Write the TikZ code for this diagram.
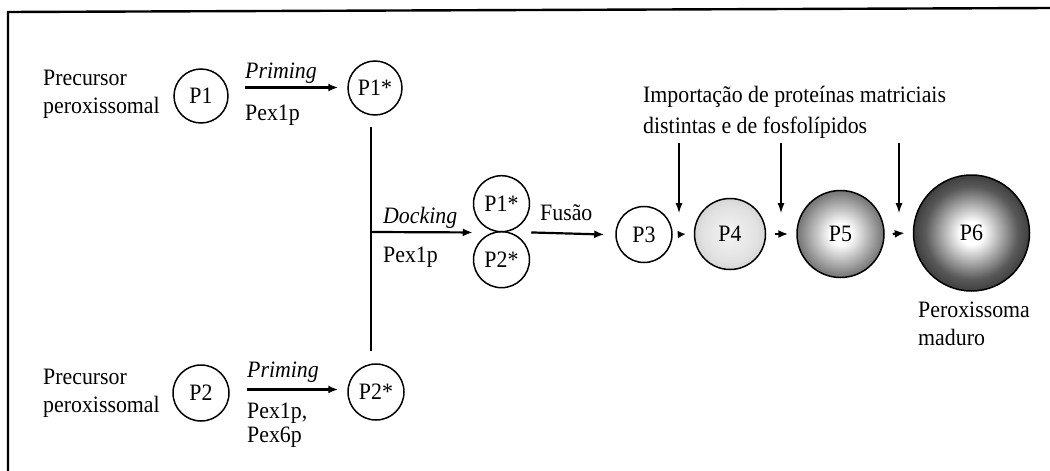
\documentclass[tikz,border=0pt]{standalone}
\usepackage{fontspec}
\setmainfont{Liberation Serif}[FakeStretch=0.93]
\usetikzlibrary{arrows.meta,calc}
\pgfdeclareradialshading{shfour}{\pgfpoint{0bp}{0bp}}{color(0bp)=(black!4); color(20bp)=(black!12); color(50bp)=(black!38)}
\pgfdeclareradialshading{shfive}{\pgfpoint{0bp}{0bp}}{color(0bp)=(white); color(6bp)=(white); color(24bp)=(black!52); color(40bp)=(black!77); color(50bp)=(black!87)}
\pgfdeclareradialshading{shsix}{\pgfpoint{0bp}{0bp}}{color(0bp)=(white); color(5bp)=(white); color(20bp)=(black!65); color(34bp)=(black!94); color(50bp)=(black)}
\begin{document}
\begin{tikzpicture}[x=1pt,y=-1pt,
  txt/.style={font=\fontsize{23.5}{28}\selectfont, inner sep=0pt},
  ptxt/.style={font=\fontsize{23.5}{28}\selectfont},
  cell/.style={circle, draw, line width=1.5pt, inner sep=0pt, ptxt},
  arr/.style={line width=2.2pt, -{Latex[length=10pt,width=8pt]}},
  thin/.style={line width=1.1pt, -{Latex[length=10pt,width=7pt]}},
  plain/.style={line width=1.8pt}]
\useasboundingbox (0,0) rectangle (1050,471);
% frame
\draw[line width=2.4pt] (8,471) -- (8,12) -- (1050,8);

% upper branch (base anchor = baseline of last line)
\node[txt, anchor=base west, align=left] (lab1) at (43,113) {Precursor\\peroxissomal};
\node[cell, minimum size=54pt] (P1) at (201,96) {P1};
\node[cell, minimum size=54pt] (P1s) at (375,88) {P1*};
\node[txt, anchor=base west] (pr1) at (245,78) {\itshape Priming};
\node[txt, anchor=base west] (px1) at (245,120) {Pex1p};
\draw[arr] (245,87.5) -- ([xshift=-9pt]P1s.west |- 0,87.5);

% lower branch
\node[txt, anchor=base west, align=left] (lab2) at (43,412) {Precursor\\peroxissomal};
\node[cell, minimum size=56pt] (P2) at (201,393) {P2};
\node[cell, minimum size=56pt] (P2s) at (376,392) {P2*};
\node[txt, anchor=base west] (pr2) at (247,377) {\itshape Priming};
\node[txt, anchor=base west, align=left, font=\fontsize{23.5}{24}\selectfont] (px2) at (247,442) {Pex1p,\\Pex6p};
\draw[arr] (247,389.5) -- ([xshift=-9pt]P2s.west |- 0,389.5);

% docking
\coordinate (vtop) at (371,127);
\coordinate (vbot) at (371,351);
\coordinate (vmid) at (371,232);
\draw[plain] (vtop) -- (vbot);
\node[cell, minimum size=56pt] (P1d) at (501.5,203.7) {P1*};
\node[cell, minimum size=56pt] (P2d) at (501.5,259.7) {P2*};
\node[txt, anchor=base west] (dock) at (383,223) {\itshape Docking};
\node[txt, anchor=base west] (px3) at (383,262) {Pex1p};
\draw[arr] (vmid) -- (P1d.south -| P1d.west);

% fusion
\node[cell, minimum size=56pt] (P3) at (644,234.5) {P3};
\node[txt, anchor=base west] (fus) at (540,220) {Fusão};
\draw[arr] ([xshift=1pt]P1d.south -| P1d.east) -- ([xshift=-11pt]P3.west);

% maturation
\node[circle, draw, line width=1.5pt, shading=shfour, minimum size=71pt, inner sep=0pt, ptxt] (P4) at (730,234) {P4};
\node[circle, draw, line width=1.5pt, shading=shfive, minimum size=87pt, inner sep=0pt, ptxt] (P5) at (840.5,234) {P5};
\node[circle, draw, line width=1.5pt, shading=shsix, minimum size=116pt, inner sep=0pt, ptxt] (P6) at (971.5,233) {P6};

\draw[line width=1.8pt, -{Latex[length=8pt,width=8pt]}] ([xshift=6pt]P3.east) -- ([xshift=-8pt]P4.west);
\draw[arr] ([xshift=9pt]P4.east) -- ([xshift=-8pt]P5.west);
\draw[arr] ([xshift=8pt]P5.east) -- ([xshift=-8pt]P6.west);

\node[txt, anchor=base west, align=left, font=\fontsize{23.5}{31}\selectfont] (imp) at (643,133) {Importação de proteínas matriciais\\distintas e de fosfolípidos};
\coordinate (i1) at (679,143);
\coordinate (i2) at (781,143);
\coordinate (i3) at (899,143);
\draw[thin] (i1) -- (679,213);
\draw[thin] (i2) -- (781,213);
\draw[thin] (i3) -- (899,213);

\node[txt, anchor=base west, align=left] (mat) at (918,345) {Peroxissoma\\maduro};
\end{tikzpicture}
\end{document}
